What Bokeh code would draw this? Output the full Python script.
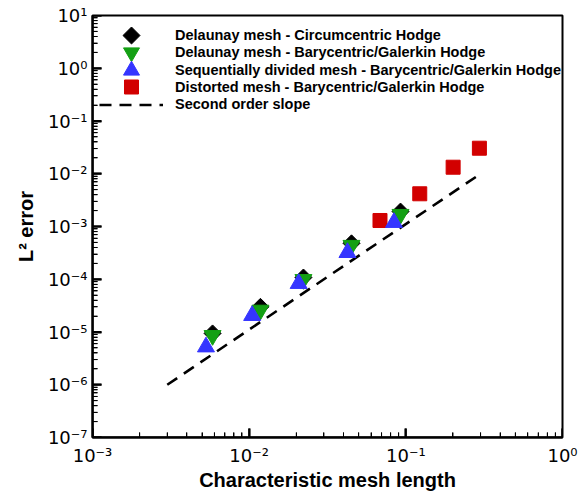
import numpy as np
from bokeh.plotting import figure
from bokeh.models import (Legend, LegendItem, FixedTicker, CustomJSTickFormatter,
                          Range1d, LinearScale, LogAxis)
from bokeh.embed import file_html
from bokeh.resources import INLINE

# ---- data ----
h_delaunay = [5.84e-3, 0.0118, 0.0222, 0.045, 0.0925]
err_circumcentric = [9.4e-6, 3.0e-5, 1.08e-4, 4.8e-4, 1.92e-3]
err_barycentric = [8.6e-6, 2.6e-5, 9.9e-5, 4.4e-4, 1.7e-3]
h_sequential = [5.3e-3, 0.01045, 0.0207, 0.0424, 0.084]
err_sequential = [5.2e-6, 2.05e-5, 8.3e-5, 3.2e-4, 1.19e-3]
h_distorted = [0.0684, 0.1227, 0.2004, 0.2948]
err_distorted = [1.3e-3, 4.17e-3, 0.0133, 0.0305]
h_slope = [0.003, 0.3]
err_slope = [1e-6, 1e-2]

labels = ["Delaunay mesh - Circumcentric Hodge",
          "Delaunay mesh - Barycentric/Galerkin Hodge",
          "Sequentially divided mesh - Barycentric/Galerkin Hodge",
          "Distorted mesh - Barycentric/Galerkin Hodge",
          "Second order slope"]
x_decades = [-3, -2, -1, 0]
y_decades = [-7, -6, -5, -4, -3, -2, -1, 0, 1]

FONT = "Liberation Sans"
TICK_FONT = "DejaVu Sans"
W, H = 588, 494
BL, BR, BT, BB = 92, 26, 15, 57
FRAME_W = W - BL - BR
FRAME_H = H - BT - BB
X_MIN, X_MAX = 1e-3, 1.0
Y_MIN, Y_MAX = 1e-7, 10.0

p = figure(width=W, height=H, x_axis_type="log", y_axis_type="log",
           x_range=(X_MIN, X_MAX), y_range=(Y_MIN, Y_MAX),
           output_backend="svg", toolbar_location=None,
           min_border_left=BL, min_border_right=BR,
           min_border_top=BT, min_border_bottom=BB)
p.xgrid.visible = False
p.ygrid.visible = False
p.outline_line_color = "black"
p.outline_line_width = 2
p.background_fill_color = "white"
p.border_fill_color = "white"

# pixel-space ranges (measured from the frame's top-left) for the legend swatch
p.extra_x_ranges = {"px": Range1d(0, FRAME_W)}
p.extra_y_ranges = {"py": Range1d(FRAME_H, 0)}
p.extra_x_scales = {"px": LinearScale()}
p.extra_y_scales = {"py": LinearScale()}

r_line = p.line(h_slope, err_slope, line_color="black", line_width=2.6,
                line_dash="12 8")
r_sq = p.scatter(h_distorted, err_distorted, marker="square", size=14,
                 fill_color="#d20000", line_color="#d20000")
r_dia = p.scatter(h_delaunay, err_circumcentric, marker="square",
                  angle=np.pi / 4, size=12, fill_color="black", line_color="black")
r_inv = p.scatter(h_delaunay, err_barycentric, marker="inverted_triangle",
                  size=17, fill_color="#14a014", line_color="#14a014")
r_tri = p.scatter(h_sequential, err_sequential, marker="triangle", size=17,
                  fill_color="#3535ff", line_color="#3535ff")

def decade_ticks(decs):
    major = [10.0 ** d for d in decs]
    minor = [k * 10.0 ** d for d in decs[:-1] for k in range(2, 10)]
    return major, minor

fmt = CustomJSTickFormatter(code="""
const e = Math.round(Math.log10(tick));
const sup = {'-':'\u207b','0':'\u2070','1':'\u00b9','2':'\u00b2','3':'\u00b3',
             '4':'\u2074','5':'\u2075','6':'\u2076','7':'\u2077','8':'\u2078','9':'\u2079'};
return '10' + String(e).split('').map(c => sup[c]).join('');
""")

x_major, x_minor = decade_ticks(x_decades)
y_major, y_minor = decade_ticks(y_decades)

# main axes pinned to the frame edges (take no border space)
for ax, loc, major, minor in ((p.xaxis[0], Y_MIN, x_major, x_minor),
                              (p.yaxis[0], X_MIN, y_major, y_minor)):
    ax.fixed_location = loc
    ax.ticker = FixedTicker(ticks=major, minor_ticks=minor)
    ax.formatter = fmt
    ax.axis_line_width = 2
    ax.axis_line_color = "black"
    ax.major_tick_in = 9
    ax.major_tick_out = 0
    ax.minor_tick_in = 5
    ax.minor_tick_out = 0
    ax.major_tick_line_width = 2
    ax.major_tick_line_color = "black"
    ax.minor_tick_line_width = 1
    ax.minor_tick_line_color = "black"
    ax.major_label_text_color = None

# inward tick marks drawn inside the frame, from the tick lists
p.ray(x=x_major, y=[Y_MIN] * len(x_major), length=9, angle=np.pi / 2,
      length_units="screen", line_color="black", line_width=2)
p.ray(x=x_minor, y=[Y_MIN] * len(x_minor), length=5, angle=np.pi / 2,
      length_units="screen", line_color="black", line_width=1)
p.ray(x=[X_MIN] * len(y_major), y=y_major, length=9, angle=0.0,
      length_units="screen", line_color="black", line_width=2)
p.ray(x=[X_MIN] * len(y_minor), y=y_minor, length=5, angle=0.0,
      length_units="screen", line_color="black", line_width=1)

# labelled axes in the border panels (no tick marks of their own)
for side, major, minor, title, lab_standoff, title_standoff in (
        ("below", x_major, x_minor, "Characteristic mesh length", 7, 0),
        ("left", y_major, y_minor, "L\u00b2 error", 5, 8)):
    lab_axis = LogAxis(ticker=FixedTicker(ticks=major, minor_ticks=minor),
                       formatter=fmt,
                       major_tick_in=0, major_tick_out=0,
                       minor_tick_in=0, minor_tick_out=0,
                       axis_line_width=2, axis_line_color="black",
                       major_label_standoff=lab_standoff,
                       major_label_text_font=TICK_FONT,
                       major_label_text_font_size="18px",
                       major_label_text_color="black",
                       axis_label=title,
                       axis_label_standoff=title_standoff,
                       axis_label_text_font=FONT,
                       axis_label_text_font_size="20px",
                       axis_label_text_font_style="bold",
                       axis_label_text_color="black")
    p.add_layout(lab_axis, side)

# one legend per row so that markers can be large while rows stay close
GLYPH_W = 64
LEG_X = 7
row_offsets = [20.0, 37.3, 54.6, 71.9, 89.2]
glyph_heights = [17, 40, 40, 35, 17]
renderers = [r_dia, r_inv, r_tri, r_sq, r_line]
for lab, r, off, gh in zip(labels, renderers, row_offsets, glyph_heights):
    leg = Legend(items=[LegendItem(label=lab, renderers=[r])],
                 location=(LEG_X, FRAME_H - off - gh / 2.0),
                 glyph_width=GLYPH_W, glyph_height=gh, label_height=gh,
                 label_standoff=12, padding=0, margin=0, spacing=0,
                 background_fill_alpha=0, border_line_alpha=0,
                 label_text_font=FONT, label_text_font_size="14.5px",
                 label_text_font_style="bold", label_text_color="black")
    p.add_layout(leg, "center")

# rotated-square swatch drawn over the first legend row (legend ignores angle)
swatch = p.scatter([LEG_X + GLYPH_W / 2.0], [row_offsets[0]], marker="square",
                   angle=np.pi / 4, size=12, fill_color="black", line_color="black",
                   x_range_name="px", y_range_name="py", level="overlay")

open("out.html", "w").write(file_html(p, INLINE))
